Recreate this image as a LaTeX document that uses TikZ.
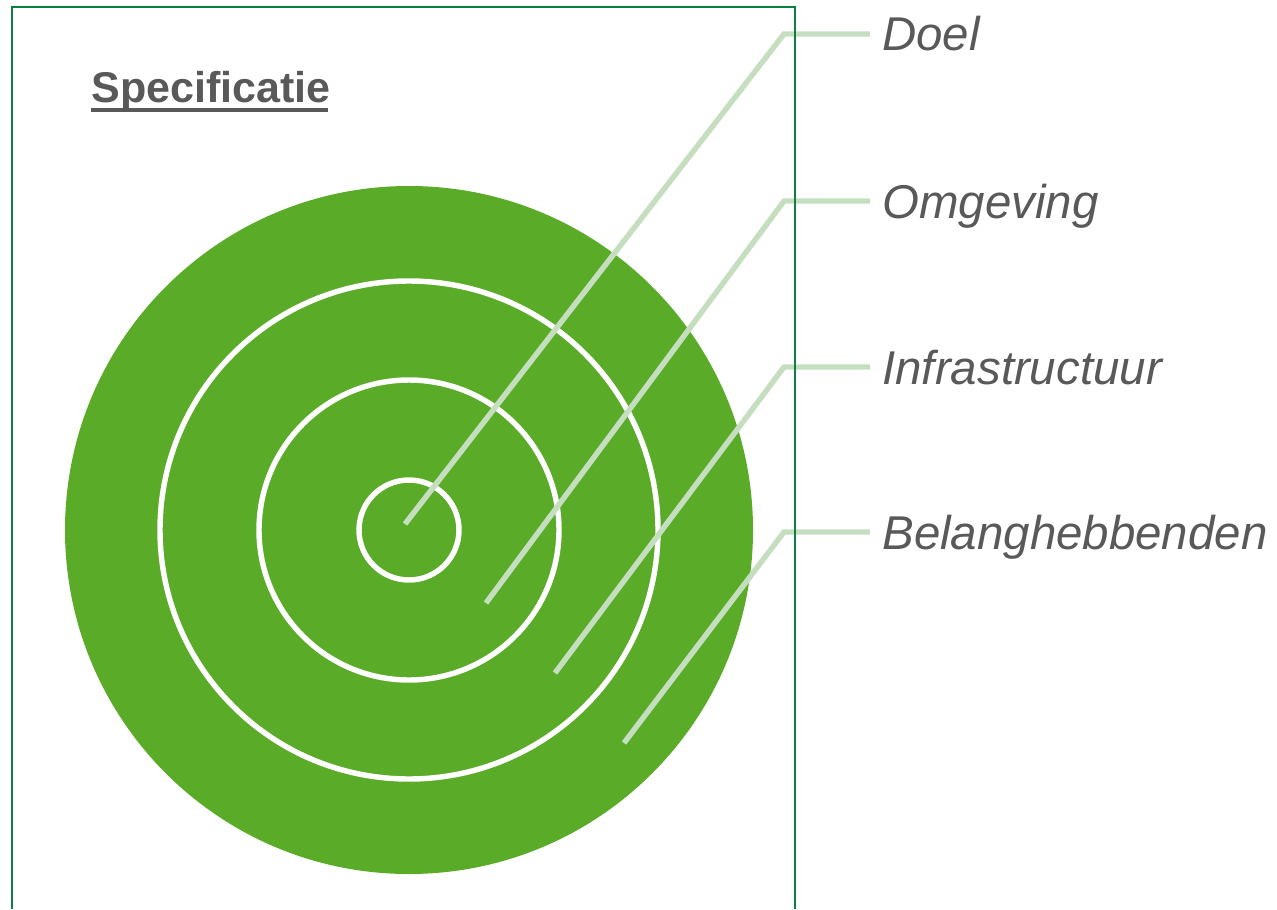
\documentclass[tikz,border=0pt]{standalone}
\usepackage{fontspec}
\setmainfont{Liberation Sans}
\setsansfont{Liberation Sans}
\definecolor{ringgreen}{HTML}{59AB28}
\definecolor{leadgreen}{HTML}{C5DEC0}
\definecolor{framegreen}{HTML}{0E7F42}
\definecolor{textgray}{HTML}{595959}
\tikzset{
  leader/.style={draw=leadgreen,line width=3.1pt},
  ring/.style={draw=white,line width=3.1pt},
  layerlabel/.style={anchor=base west,inner sep=0pt,text=textgray,
    font=\fontsize{27}{32}\selectfont\sffamily\itshape},
}
\begin{document}
\begin{tikzpicture}[x=0.02cm,y=-0.02cm]
\useasboundingbox (0,0) rectangle (1277,909);
% target disk
\fill[ringgreen] (409,530) circle (344);
\draw[ring] (409,530) circle (249);
\draw[ring] (409,530) circle (150);
\draw[ring] (409,530) circle (50);

% title
\node[anchor=base west,inner sep=0pt,text=textgray,
  font=\fontsize{24.5}{29}\selectfont\sffamily\bfseries] (spec) at (91,103) {Specificatie};
\draw[textgray,line width=1.9pt] (91,110) -- (328,110);

% labels
\node[layerlabel] (doel) at (882,51) {Doel};
\node[layerlabel] (omg) at (882,218) {Omgeving};
\node[layerlabel] (infra) at (882,384) {Infrastructuur};
\node[layerlabel] (belang) at (882,549) {Belanghebbenden};

% leader lines
\coordinate (doeltip) at (405,524);
\coordinate (doelknee) at (784,34);
\coordinate (omgtip) at (486,603);
\coordinate (omgknee) at (784,201);
\coordinate (infratip) at (555,673);
\coordinate (infraknee) at (784,367);
\coordinate (belangtip) at (624,743);
\coordinate (belangknee) at (784,532);
\draw[leader] (doeltip) -- (doelknee) -- ([xshift=-12*0.02cm]doelknee -| doel.west);
\draw[leader] (omgtip) -- (omgknee) -- ([xshift=-12*0.02cm]omgknee -| omg.west);
\draw[leader] (infratip) -- (infraknee) -- ([xshift=-12*0.02cm]infraknee -| infra.west);
\draw[leader] (belangtip) -- (belangknee) -- ([xshift=-12*0.02cm]belangknee -| belang.west);

% frame
\draw[framegreen,line width=1.3pt] (12,909) -- (12,7) -- (795,7) -- (795,909);
\end{tikzpicture}
\end{document}
